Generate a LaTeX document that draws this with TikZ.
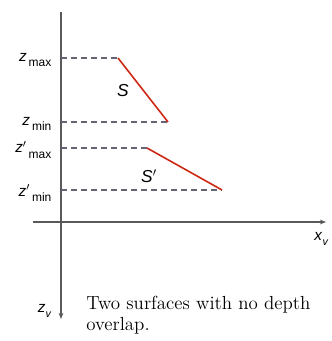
\documentclass[tikz,border=0pt]{standalone}
\usepackage{fontspec}
\setsansfont{Liberation Sans}
\usetikzlibrary{arrows.meta}

\definecolor{levelgray}{RGB}{100,100,118}
\definecolor{surfred}{RGB}{205,40,20}

% axis label in the figure's sans italic, with a lowered subscript
\newcommand{\zlbl}[2]{\textit{z}#1\raisebox{-0.7ex}{\fontsize{9}{9}\selectfont\,#2}}

\begin{document}
\begin{tikzpicture}[x=0.75pt,y=-0.75pt,
  axis/.style={draw=black!65,line width=0.9pt,-{Stealth[length=4.5pt,width=3.5pt]}},
  level/.style={draw=levelgray,dashed,dash pattern=on 4.5pt off 3pt,line width=0.8pt},
  surf/.style={draw=surfred,line width=1.2pt},
  lbl/.style={font=\sffamily\fontsize{11.5}{12}\selectfont,inner sep=1pt}]

  \useasboundingbox (0,0) rectangle (331,341);

  % Axes
  \coordinate (O) at (61,222);
  \coordinate (xstart) at (33,222);
  \coordinate (xend) at (326,222);
  \coordinate (ztop) at (61,12);
  \coordinate (zend) at (61,319);
  \draw[axis] (xstart) -- (xend);
  \draw[axis] (ztop) -- (zend);
  \node[lbl,anchor=north east] (xv) at (330,231) {\textit{x}\raisebox{-0.6ex}{\fontsize{8}{8}\selectfont\textit{v}}};
  \node[lbl,anchor=east] (zv) at (53,311) {\textit{z}\raisebox{-0.6ex}{\fontsize{8}{8}\selectfont\textit{v}}};

  % Surface ends
  \coordinate (Smax) at (118,58);
  \coordinate (Smin) at (168,122);
  \coordinate (Tmax) at (147,148);
  \coordinate (Tmin) at (222,190);

  % Depth levels
  \draw[level] (O |- Smax) -- (Smax);
  \draw[level] (O |- Smin) -- (Smin);
  \draw[level] (O |- Tmax) -- (Tmax);
  \draw[level] (O |- Tmin) -- (Tmin);

  \node[lbl,anchor=east] (zmax) at (53,60) {\zlbl{}{max}};
  \node[lbl,anchor=east] (zmin) at (53,124) {\zlbl{}{min}};
  \node[lbl,anchor=east] (zmaxp) at (53,150) {\zlbl{$'$}{max}};
  \node[lbl,anchor=east] (zminp) at (53,193) {\zlbl{$'$}{min}};

  % Surfaces
  \draw[surf] (Smax) -- (Smin);
  \draw[surf] (Tmax) -- (Tmin);
  \node[lbl,font=\sffamily\fontsize{13}{13}\selectfont] (S) at (123,91) {\textit{S}};
  \node[lbl,font=\sffamily\fontsize{13}{13}\selectfont] (Sp) at (149,176) {\textit{S}$'$};

  % Caption
  \node[anchor=north west,align=left,inner sep=0pt,font=\fontsize{14.2}{16}\selectfont] (cap) at (86,296)
    {Two surfaces with no depth\\overlap.};

\end{tikzpicture}
\end{document}
